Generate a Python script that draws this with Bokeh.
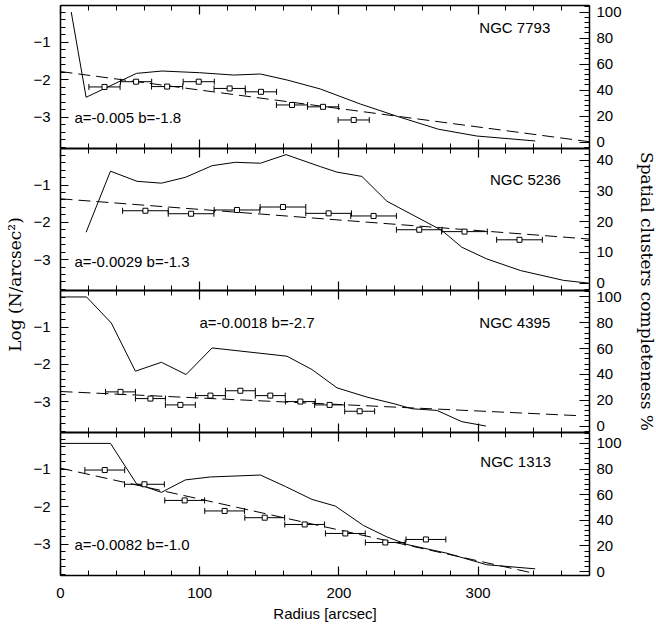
import math
from bokeh.plotting import figure
from bokeh.models import (Range1d, LinearAxis, SingleIntervalTicker, Whisker,
                          TeeHead, ColumnDataSource, Label, CustomLabelingPolicy)
from bokeh.layouts import row, column
from bokeh.embed import file_html
from bokeh.resources import INLINE

# ---------------- data ----------------
galaxies = ["NGC 7793", "NGC 5236", "NGC 4395", "NGC 1313"]
fit_texts = ["a=-0.005 b=-1.8", "a=-0.0029 b=-1.3", "a=-0.0018 b=-2.7", "a=-0.0082 b=-1.0"]

# binned log surface density points (radius, log N) with half bin width
pts1_x = [31.6, 54.3, 76.6, 99.3, 121.5, 144.0, 166.3, 188.6, 210.6]
pts1_y = [-2.19, -2.05, -2.18, -2.05, -2.23, -2.32, -2.67, -2.72, -3.07]
pts1_hw = 11.2
pts2_x = [61.0, 93.8, 126.8, 159.8, 192.6, 224.9, 257.7, 290.2, 329.7]
pts2_y = [-1.69, -1.77, -1.67, -1.59, -1.76, -1.83, -2.20, -2.25, -2.47]
pts2_hw = 16.4
pts3_x = [43.1, 64.6, 86.1, 107.7, 129.2, 150.7, 172.3, 193.3, 214.9]
pts3_y = [-2.74, -2.92, -3.09, -2.84, -2.71, -2.84, -3.00, -3.09, -3.26]
pts3_hw = 10.75
pts4_x = [31.8, 60.3, 89.2, 117.9, 146.7, 175.4, 204.6, 233.3, 262.5]
pts4_y = [-1.02, -1.40, -1.83, -2.11, -2.29, -2.47, -2.71, -2.95, -2.87]
pts4_hw = 14.3

# fitted lines (read end points)
fit1_x = [0, 380]; fit1_y = [-1.78, -3.65]
fit2_x = [0, 380]; fit2_y = [-1.37, -2.45]
fit3_x = [0, 373]; fit3_y = [-2.73, -3.38]
fit4_x = [0, 340]; fit4_y = [-0.97, -3.77]

# completeness curves (%)
comp1_x = [7.7, 18.4, 54.6, 73.0, 100.0, 124.4, 143.6, 162.7, 186.6, 215.4, 244.0, 271.6, 299.0, 341.0]
comp1_y = [100, 34.4, 52.8, 54.6, 53.3, 51.5, 52.3, 47.7, 40.8, 29.2, 19.0, 9.8, 4.6, 0.8]
comp2_x = [18.4, 35.9, 55.0, 72.5, 89.7, 108.9, 125.6, 143.6, 162.0, 186.6, 198.6, 216.5, 234.5,
           273.9, 288.3, 306.2, 330.5, 361.4, 379.5]
comp2_y = [16.6, 36.5, 33.2, 32.6, 34.5, 38.3, 39.4, 39.1, 41.9, 38.0, 36.2, 34.8, 26.7,
           17.2, 11.7, 7.9, 4.1, 0.9, 0.0]
comp3_x = [0, 18.7, 36.5, 53.8, 72.5, 90.2, 108.9, 162.7, 180.6, 198.6, 220.2, 239.5, 252.5,
           270.4, 288.3, 305.6]
comp3_y = [100, 100, 79.8, 42.5, 49.4, 39.9, 60.5, 54.1, 43.8, 29.6, 22.4, 17.3, 13.4,
           12.1, 3.4, 0.0]
comp4_x = [0, 35.9, 54.6, 72.5, 89.7, 107.7, 143.6, 161.5, 180.6, 197.4, 217.7, 234.5, 248.9,
           277.6, 306.2, 341.0]
comp4_y = [100, 100, 68.5, 61.8, 71.5, 73.8, 75.3, 66.4, 56.3, 51.1, 35.9, 27.0, 21.1,
           14.3, 5.3, 2.1]

# ---------------- layout constants ----------------
FONT = "Liberation Sans"
FS = "15px"
LEFT_W = 27
RIGHT_W = 22
MAIN_W = 656 - LEFT_W - RIGHT_W
BL, BR = 60 - LEFT_W, MAIN_W - (60 - LEFT_W) - 529

panels = [
    dict(name=galaxies[0], fit=fit_texts[0], px=pts1_x, py=pts1_y, hw=pts1_hw,
         fx=fit1_x, fy=fit1_y, cx=comp1_x, cy=comp1_y, pr=(-5.0, 105.0), pint=20,
         h=148, top=5, bottom=0, name_xy=(351.8, -0.605), fit_xy=(10.0, -3.01)),
    dict(name=galaxies[1], fit=fit_texts[1], px=pts2_x, py=pts2_y, hw=pts2_hw,
         fx=fit2_x, fy=fit2_y, cx=comp2_x, cy=comp2_y, pr=(-2.4, 43.9), pint=10,
         h=142, top=0, bottom=0, name_xy=(359.4, -0.85), fit_xy=(10.0, -3.05)),
    dict(name=galaxies[2], fit=fit_texts[2], px=pts3_x, py=pts3_y, hw=pts3_hw,
         fx=fit3_x, fy=fit3_y, cx=comp3_x, cy=comp3_y, pr=(-5.0, 105.0), pint=20,
         h=142, top=0, bottom=0, name_xy=(351.8, -0.885), fit_xy=(99.8, -0.885)),
    dict(name=galaxies[3], fit=fit_texts[3], px=pts4_x, py=pts4_y, hw=pts4_hw,
         fx=fit4_x, fy=fit4_y, cx=comp4_x, cy=comp4_y, pr=(-3.1, 108.5), pint=20,
         h=199, top=0, bottom=56, name_xy=(352.5, -0.78), fit_xy=(10.0, -3.0)),
]


def style_axis(ax, labels, tick_in, minor_in, lw=1.5):
    ax.axis_line_width = lw
    ax.axis_line_color = "black"
    ax.major_tick_in = tick_in
    ax.major_tick_out = 0
    ax.minor_tick_in = minor_in
    ax.minor_tick_out = 0
    ax.major_tick_line_width = 1.2
    ax.minor_tick_line_width = 1
    ax.major_tick_line_color = "black"
    ax.minor_tick_line_color = "black"
    if labels:
        ax.major_label_text_font = FONT
        ax.major_label_text_font_size = FS
        ax.major_label_text_color = "black"
    else:
        ax.major_label_text_font_size = "0px"
        ax.major_label_standoff = 0
        ax.major_label_policy = CustomLabelingPolicy(code="return new Set()")


figs = []
for i, d in enumerate(panels):
    last = i == len(panels) - 1
    p = figure(width=MAIN_W, height=d["h"], x_range=Range1d(0, 380),
               y_range=Range1d(-3.83, -0.02), x_axis_location=None, y_axis_location=None,
               toolbar_location=None, output_backend="svg",
               min_border_left=BL, min_border_right=BR,
               min_border_top=d["top"], min_border_bottom=d["bottom"])
    p.outline_line_color = None
    p.grid.visible = False
    p.background_fill_color = "white"
    p.border_fill_color = "white"
    p.extra_y_ranges = {"pct": Range1d(*d["pr"])}

    left = LinearAxis(ticker=SingleIntervalTicker(interval=1, num_minor_ticks=5))
    style_axis(left, True, 8, 5)
    left.major_label_standoff = 10
    p.add_layout(left, "left")

    right = LinearAxis(y_range_name="pct",
                       ticker=SingleIntervalTicker(interval=d["pint"], num_minor_ticks=5))
    style_axis(right, True, 10, 5)
    right.major_label_standoff = 7
    p.add_layout(right, "right")

    above = LinearAxis(ticker=SingleIntervalTicker(interval=100, num_minor_ticks=5))
    style_axis(above, False, 9, 5, lw=(1.5 if i == 0 else 2))
    p.add_layout(above, "above")

    below = LinearAxis(ticker=SingleIntervalTicker(interval=100, num_minor_ticks=5))
    style_axis(below, last, 9, 5, lw=(1.5 if last else 2))
    if last:
        below.major_label_standoff = 12
        below.axis_label = "Radius [arcsec]"
        below.axis_label_text_font = FONT
        below.axis_label_text_font_size = FS
        below.axis_label_text_font_style = "normal"
        below.axis_label_text_color = "black"
        below.axis_label_standoff = 4
    p.add_layout(below, "below")

    # completeness curve
    p.line(d["cx"], d["cy"], y_range_name="pct", line_color="black", line_width=1)
    # fit line
    p.line(d["fx"], d["fy"], line_color="black", line_width=1, line_dash="12 6")
    # error bars
    src = ColumnDataSource(dict(x=d["px"], y=d["py"],
                                lo=[v - d["hw"] for v in d["px"]],
                                hi=[v + d["hw"] for v in d["px"]]))
    wh = Whisker(source=src, base="y", lower="lo", upper="hi", dimension="width",
                 line_color="black", line_width=1,
                 lower_head=TeeHead(size=6, line_width=1, line_color="black"),
                 upper_head=TeeHead(size=6, line_width=1, line_color="black"))
    p.add_layout(wh)
    p.scatter("x", "y", source=src, marker="square", size=5, fill_color="white",
              line_color="black", line_width=1)

    p.add_layout(Label(x=d["name_xy"][0], y=d["name_xy"][1], text=d["name"],
                       text_align="right", text_baseline="middle",
                       text_font=FONT, text_font_size=FS, text_color="black"))
    p.add_layout(Label(x=d["fit_xy"][0], y=d["fit_xy"][1], text=d["fit"],
                       text_align="left", text_baseline="middle",
                       text_font=FONT, text_font_size=FS, text_color="black"))
    figs.append(p)


def side_fig(w, text, xc, yc, angle):
    f = figure(width=w, height=631, x_range=Range1d(0, 1), y_range=Range1d(0, 1),
               x_axis_location=None, y_axis_location=None, toolbar_location=None,
               output_backend="svg", min_border=0)
    f.outline_line_color = None
    f.grid.visible = False
    f.add_layout(Label(x=xc, y=(631 - yc) / 631, text=text, angle=angle,
                       text_align="center", text_baseline="middle",
                       text_font="DejaVu Serif", text_font_size="17px",
                       text_color="black"))
    return f


lfig = side_fig(LEFT_W, "Log (N/arcsec²)", 14 / LEFT_W, 284, math.pi / 2)
rfig = side_fig(RIGHT_W, "Spatial clusters completeness %", 12 / RIGHT_W, 291, -math.pi / 2)

layout = row(lfig, column(*figs), rfig)

open("out.html", "w").write(file_html(layout, INLINE))
